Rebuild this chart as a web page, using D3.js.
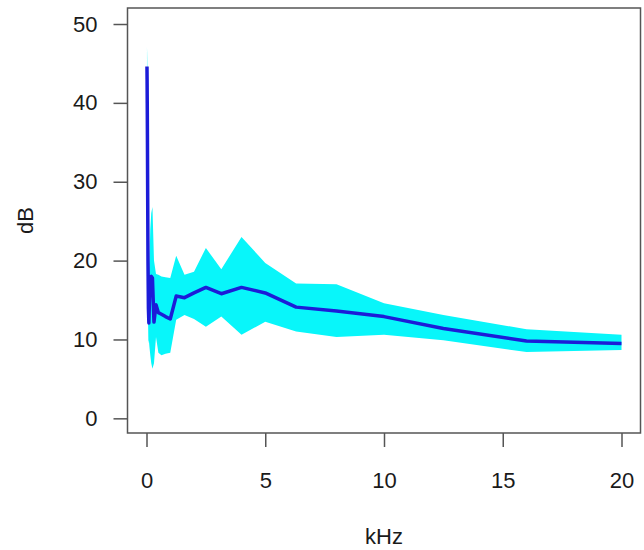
<!doctype html>
<html>
<head>
    <meta charset="UTF-8">
    <title>dB vs kHz</title>
    <script src="https://d3js.org/d3.v7.min.js"></script>
    <style>
        body{ margin:0; background:#fff; }
        text{ font-family:"Liberation Sans", Arial, sans-serif; font-size:22px; fill:#1a1a1a; }
    </style>
</head>
<body>
    <svg width="644" height="550" id="svg1"></svg>

    <script>
        // third-octave band centres, kHz
        var freq  = [0.02, 0.025, 0.0315, 0.04, 0.05, 0.063, 0.08, 0.1, 0.125, 0.16, 0.2, 0.25, 0.315, 0.4, 0.5, 0.63, 0.8, 1, 1.25, 1.6, 2, 2.5, 3.15, 4, 5, 6.3, 8, 10, 12.5, 16, 20];
        var mean  = [44.6, 43, 40, 35, 28, 20, 14, 12.1, 15, 17.9, 18.0, 17.8, 12.2, 14.4, 13.4, 13.2, 12.9, 12.6, 15.5, 15.3, 15.9, 16.6, 15.8, 16.6, 15.9, 14.1, 13.6, 12.9, 11.4, 9.8, 9.5];
        var upper = [47.1, 46.5, 45.5, 43, 38, 31, 24, 17, 20, 24, 26, 26.8, 20, 18.3, 18.2, 18.0, 17.9, 17.8, 20.6, 18.2, 18.6, 21.6, 18.9, 23.0, 19.7, 17.1, 17.0, 14.6, 13.1, 11.3, 10.6];
        var lower = [42, 39, 35, 28, 20, 13, 9.5, 9.9, 9, 8, 7, 6.3, 7, 10.3, 8.3, 8.0, 8.2, 8.3, 12.5, 13.1, 12.6, 11.6, 12.9, 10.6, 12.25, 11.0, 10.3, 10.6, 9.9, 8.4, 8.66];
        var xTicks = [0, 5, 10, 15, 20];
        var yTicks = [0, 10, 20, 30, 40, 50];

        var svg = d3.select("#svg1");
        var pLeft = 127.5, pRight = 640.5, pTop = 8, pBottom = 433;

        var x = d3.scaleLinear().domain([-0.8, 20.8]).range([pLeft, pRight]);
        var y = d3.scaleLinear().domain([-1.86, 52.03]).range([pBottom, pTop]);

        var pts = freq.map(function(f, i){
            return {f: f, m: mean[i], lo: lower[i], hi: upper[i]};
        });

        // band
        var area = d3.area()
            .x(function(d){ return x(d.f); })
            .y0(function(d){ return y(d.lo); })
            .y1(function(d){ return y(d.hi); });
        svg.append("path")
           .datum(pts)
           .attr("d", area)
           .attr("fill", "#08f6fa");

        // mean line
        var line = d3.line()
            .x(function(d){ return x(d.f); })
            .y(function(d){ return y(d.m); });
        svg.append("path")
           .datum(pts)
           .attr("d", line)
           .attr("fill", "none")
           .attr("stroke", "#1c1cd8")
           .attr("stroke-width", 3.5)
           .attr("stroke-linejoin", "round");

        // box
        svg.append("rect")
           .attr("x", pLeft)
           .attr("y", pTop)
           .attr("width", pRight - pLeft)
           .attr("height", pBottom - pTop)
           .attr("fill", "none")
           .attr("stroke", "#555")
           .attr("stroke-width", 1.5);

        // x axis
        var xAxis = d3.axisBottom(x).tickValues(xTicks).tickSize(14).tickPadding(26);
        var gx = svg.append("g").attr("transform", "translate(0," + pBottom + ")").call(xAxis);
        gx.select(".domain").remove();
        gx.selectAll("line").attr("stroke", "#555").attr("stroke-width", 1.5);
        gx.selectAll("text").attr("dy", null).attr("y", 55).style("font-size", "22px").attr("fill", "#1a1a1a");

        // y axis
        var yAxis = d3.axisLeft(y).tickValues(yTicks).tickSize(14).tickPadding(16);
        var gy = svg.append("g").attr("transform", "translate(" + pLeft + ",0)").call(yAxis);
        gy.select(".domain").remove();
        gy.selectAll("line").attr("stroke", "#555").attr("stroke-width", 1.5);
        gy.selectAll("text").style("font-size", "22px").attr("fill", "#1a1a1a");

        // axis titles
        svg.append("text")
           .attr("x", (pLeft + pRight) / 2)
           .attr("y", 544)
           .attr("text-anchor", "middle")
           .text("kHz");

        svg.append("text")
           .attr("transform", "translate(33," + ((pTop + pBottom) / 2) + ") rotate(-90)")
           .attr("text-anchor", "middle")
           .text("dB");
    </script>
</body>
</html>
